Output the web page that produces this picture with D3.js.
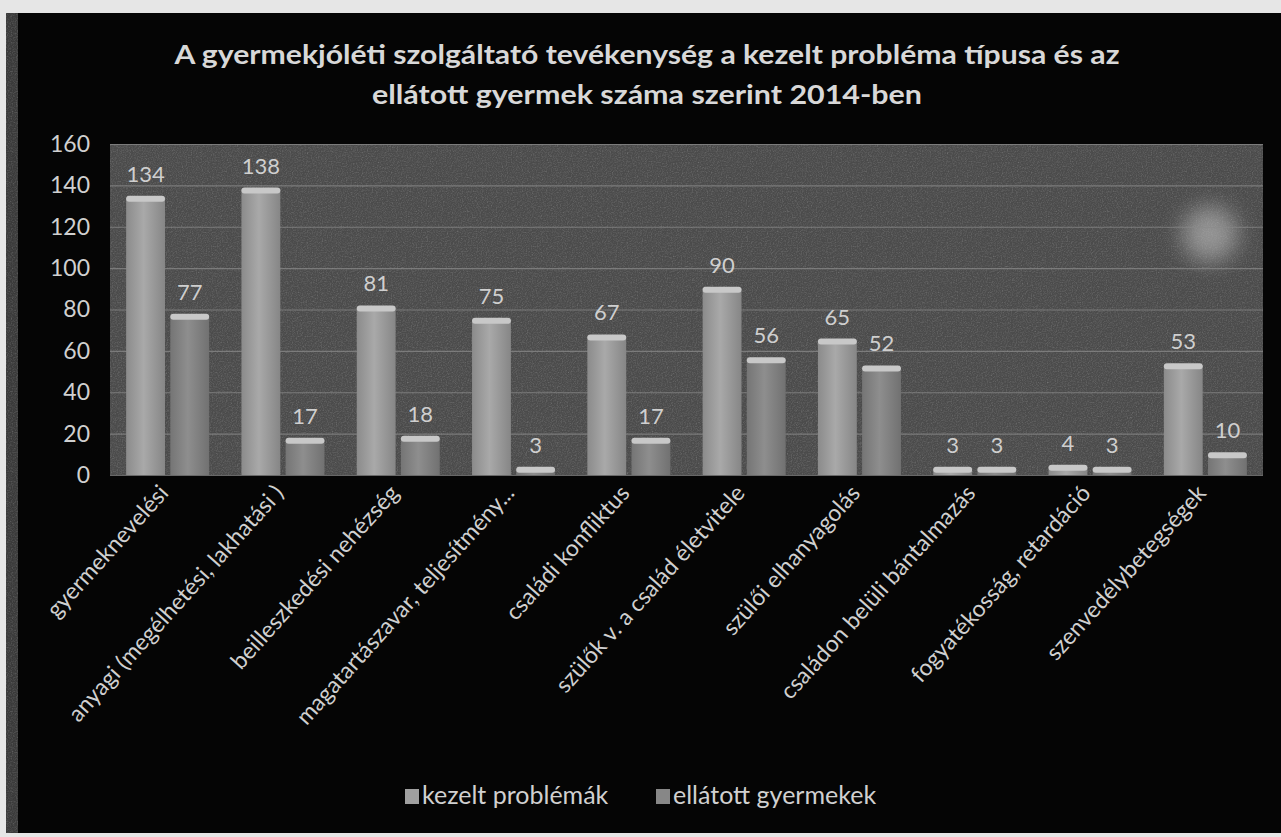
<!DOCTYPE html>
<html>
<head>
<meta charset="utf-8">
<script src="https://cdnjs.cloudflare.com/ajax/libs/d3/7.8.5/d3.min.js"></script>
<style>
  body { margin: 0; background: #e6e6e6; }
  svg { display: block; }
  text { font-family: Lato, "Open Sans", sans-serif; }
</style>
</head>
<body>
<script>
// chart data
var categories = ["gyermeknevelési", "anyagi (megélhetési, lakhatási )", "beilleszkedési nehézség",
  "magatartászavar, teljesítmény...", "családi konfliktus", "szülők v. a család életvitele",
  "szülői elhanyagolás", "családon belüli bántalmazás", "fogyatékosság, retardáció", "szenvedélybetegségek"];
var kezelt = [134, 138, 81, 75, 67, 90, 65, 3, 4, 53];
var ellatott = [77, 17, 18, 3, 17, 56, 52, 3, 3, 10];
var seriesNames = ["kezelt problémák", "ellátott gyermekek"];
var yTicks = [0, 20, 40, 60, 80, 100, 120, 140, 160];
var titleLines = ["A gyermekjóléti szolgáltató tevékenység a kezelt probléma típusa és az",
  "ellátott gyermek száma szerint  2014-ben"];

var width = 1281, height = 837;
var plot = {left: 110, right: 1263, top: 144, bottom: 475};
var titleWidths = [945, 550];

var svg = d3.select("body").append("svg")
    .attr("width", width)
    .attr("height", height);

var defs = svg.append("defs");
var grain = defs.append("filter").attr("id", "grain")
    .attr("x", 0).attr("y", 0).attr("width", 1).attr("height", 1);
grain.append("feTurbulence").attr("type", "fractalNoise")
    .attr("baseFrequency", 0.8).attr("numOctaves", 2).attr("result", "n");
grain.append("feColorMatrix").attr("in", "n").attr("type", "matrix")
    .attr("values", "0 0 0 0 0.5  0 0 0 0 0.5  0 0 0 0 0.5  0.33 0.33 0.33 0 -0.45")
    .attr("result", "g");
grain.append("feComposite").attr("in", "g").attr("in2", "SourceGraphic").attr("operator", "in");
defs.append("filter").attr("id", "soft")
    .attr("x", -1).attr("y", -1).attr("width", 3).attr("height", 3)
    .append("feGaussianBlur").attr("stdDeviation", 11);

// bar shading, like the old 3D cylinder look
function barGrad(id, c) {
  var g = defs.append("linearGradient").attr("id", id);
  g.append("stop").attr("offset", "0%").attr("stop-color", d3.color(c).darker(0.4));
  g.append("stop").attr("offset", "45%").attr("stop-color", d3.color(c).brighter(0.15));
  g.append("stop").attr("offset", "100%").attr("stop-color", d3.color(c).darker(0.5));
}
var colors = ["#a0a0a0", "#878787"];
barGrad("g0", colors[0]);
barGrad("g1", colors[1]);

// black chart frame
svg.append("rect").attr("x", 14).attr("y", 13)
    .attr("width", width - 14).attr("height", 820)
    .attr("fill", "#050505");
svg.append("rect").attr("x", 6).attr("y", 13)
    .attr("width", 12).attr("height", 820)
    .attr("fill", "#3a3a3a");
svg.append("rect").attr("x", 6).attr("y", 13)
    .attr("width", 12).attr("height", 820)
    .attr("fill", "#999").attr("filter", "url(#grain)");

// title
svg.selectAll(".title")
    .data(titleLines)
    .enter()
    .append("text")
    .attr("class", "title")
    .attr("x", 647)
    .attr("y", function(d, i){ return 64 + i * 40; })
    .attr("text-anchor", "middle")
    .attr("fill", "#d8d8d8")
    .attr("font-weight", "bold")
    .attr("font-size", 27)
    .attr("textLength", function(d, i){ return titleWidths[i]; })
    .attr("lengthAdjust", "spacingAndGlyphs")
    .text(function(d){ return d; });

// scales
var x0 = d3.scaleBand().domain(categories)
    .range([plot.left, plot.right])
    .paddingInner(0.28).paddingOuter(0.14);
var x1 = d3.scaleBand().domain([0, 1])
    .range([0, x0.bandwidth()])
    .paddingInner(0.12);
var y = d3.scaleLinear().domain([0, 160]).range([plot.bottom, plot.top]);

// plot area
svg.append("rect")
    .attr("x", plot.left).attr("y", plot.top)
    .attr("width", plot.right - plot.left).attr("height", plot.bottom - plot.top)
    .attr("fill", "#4b4b4b");
svg.append("rect")
    .attr("x", plot.left).attr("y", plot.top)
    .attr("width", plot.right - plot.left).attr("height", plot.bottom - plot.top)
    .attr("fill", "#888").attr("filter", "url(#grain)");
// light smudge from the scan
svg.append("circle")
    .attr("cx", 1210).attr("cy", 234).attr("r", 28)
    .attr("fill", "#b8b8b8").attr("opacity", 0.65)
    .attr("filter", "url(#soft)");

// gridlines
svg.append("g")
    .attr("class", "grid")
    .attr("transform", "translate(" + plot.left + ",0)")
    .call(d3.axisLeft(y).tickValues(yTicks).tickSize(-(plot.right - plot.left)).tickFormat(""))
    .call(function(g){
      g.select(".domain").remove();
      g.selectAll("line").attr("stroke", "#8a8a8a").attr("stroke-width", 1.2).attr("opacity", 0.75);
    });

// y axis labels
svg.append("g")
    .attr("transform", "translate(" + (plot.left - 20) + ",0)")
    .call(d3.axisLeft(y).tickValues(yTicks).tickSize(0).tickPadding(0))
    .call(function(g){
      g.select(".domain").remove();
      g.selectAll("text")
        .attr("fill", "#d0d0d0")
        .attr("font-size", 23)
        .style("font-family", "Lato, 'Open Sans', sans-serif");
    });

// bars
var series = [kezelt, ellatott];
series.forEach(function(vals, s){
  var grp = svg.append("g").attr("class", "series" + s);
  var bars = grp.selectAll("g")
      .data(categories)
      .enter()
      .append("g");
  bars.append("rect")
      .attr("x", function(d){ return x0(d) + x1(s); })
      .attr("y", function(d, i){ return y(vals[i]); })
      .attr("width", x1.bandwidth())
      .attr("height", function(d, i){ return y(0) - y(vals[i]); })
      .attr("fill", "url(#g" + s + ")");
  bars.append("rect")
      .attr("x", function(d){ return x0(d) + x1(s); })
      .attr("y", function(d, i){ return y(vals[i]) - 2; })
      .attr("width", x1.bandwidth())
      .attr("height", 6)
      .attr("rx", 3)
      .attr("fill", "#c8c8c8");
  bars.append("text")
      .attr("x", function(d){ return x0(d) + x1(s) + x1.bandwidth() / 2; })
      .attr("y", function(d, i){ return y(vals[i]) - 16; })
      .attr("text-anchor", "middle")
      .attr("fill", "#cfcfcf")
      .attr("font-size", 22)
      .text(function(d, i){ return vals[i]; });
});

// category labels, ending at the group centre
svg.append("g").selectAll("text")
    .data(categories)
    .enter()
    .append("text")
    .attr("transform", function(d){
      return "translate(" + (x0(d) + x0.bandwidth() / 2 + 2) + ",494) rotate(-48)";
    })
    .attr("text-anchor", "end")
    .attr("fill", "#d0d0d0")
    .attr("font-size", 23)
    .text(function(d){ return d; });

// legend
var legendX = [405, 656];
var legend = svg.append("g").selectAll("g")
    .data(seriesNames)
    .enter()
    .append("g")
    .attr("transform", function(d, i){ return "translate(" + legendX[i] + ",797)"; });
legend.append("rect")
    .attr("x", 0).attr("y", -8)
    .attr("width", 14).attr("height", 15)
    .attr("fill", function(d, i){ return colors[i]; });
legend.append("text")
    .attr("x", 17).attr("y", 7)
    .attr("fill", "#d0d0d0")
    .attr("font-size", 25)
    .text(function(d){ return d; });
</script>
</body>
</html>
